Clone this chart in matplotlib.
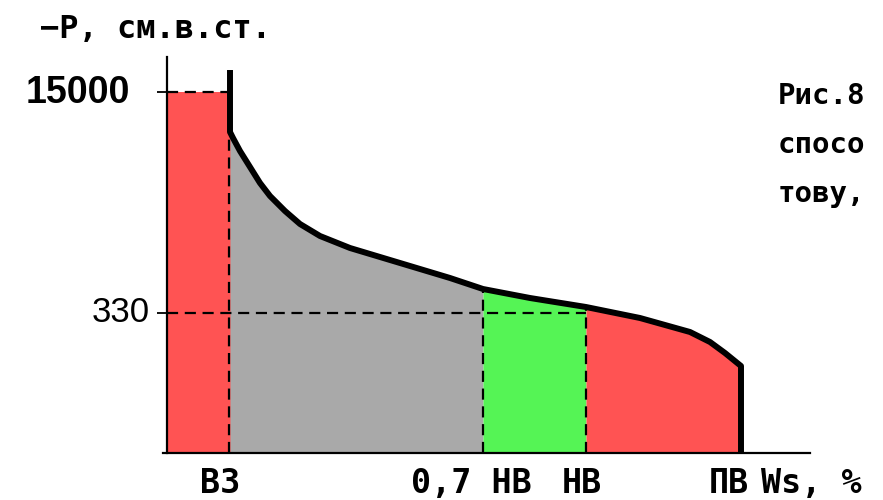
import numpy as np
import matplotlib
matplotlib.use("Agg")
import matplotlib.pyplot as plt

# ---- data (chart units: horizontal = moisture scale, vertical = suction scale) ----
curve_x = [63, 63, 66, 73, 83, 93, 103, 118, 133, 153, 183, 233, 283, 316, 363, 419, 473, 523, 543, 558, 574, 574]
curve_y = [380, 321, 315, 302, 286, 270, 257, 242, 229, 217, 205, 190, 175, 164, 155, 146, 135, 121, 111, 100, 87, 0]

x_vz, x_07nv, x_nv, x_pv = 63, 316, 419, 574        # ВЗ, 0,7 НВ, НВ, ПВ
y_15000, y_330 = 361, 140                            # suction levels
ytick_labels = ["15000", "330"]
xtick_labels = ["ВЗ", "0,7 НВ", "НВ", "ПВ"]
x_axis_label = "Ws, %"
y_axis_label = "−Р, см.в.ст."
side_text = ["Рис.8", "спосо", "тову,"]

RED = "#ff5353"
GRAY = "#a9a9a9"
GREEN = "#55f455"

W, H, DPI = 883, 500, 100
fig = plt.figure(figsize=(W / DPI, H / DPI), dpi=DPI)
ox, oy = 167, 453          # pixel position of the origin
left_px = ox - 10
ax = fig.add_axes([left_px / W, (H - oy) / H, (W - left_px) / W, oy / H])
ax.set_xlim(-10, W - ox)
ax.set_ylim(0, oy)
ax.patch.set_alpha(0)

cx = np.array(curve_x[1:-1], float)
cy = np.array(curve_y[1:-1], float)

# left red bar (ВЗ), slightly overlapped by the gray area to avoid a seam
ax.bar(0, y_15000, width=x_vz + 1.5, align="edge", color=RED, lw=0, zorder=1)
# gray / green / red regions under the curve
ax.fill_between(cx, 0, cy, where=(cx <= x_07nv), color=GRAY, lw=0, zorder=1.1)
ax.fill_between(cx, 0, cy, where=(cx >= x_07nv) & (cx <= x_nv), color=GREEN, lw=0, zorder=1.1)
ax.fill_between(cx, 0, cy, where=(cx >= x_nv), color=RED, lw=0, zorder=1.1)

dash = dict(color="black", lw=1.6, linestyle=(0, (5, 3)), zorder=2)
ax.plot([0, x_vz], [y_15000, y_15000], **dash)
ax.plot([0, x_nv], [y_330, y_330], **dash)
ax.plot([x_vz - 1, x_vz - 1], [0, np.interp(x_vz, cx, cy)], **dash)
ax.plot([x_07nv, x_07nv], [0, np.interp(x_07nv, cx, cy)], **dash)
ax.plot([x_nv, x_nv], [0, np.interp(x_nv, cx, cy)], **dash)

# main curve
ax.plot(curve_x, curve_y, color="black", lw=4.3, solid_joinstyle="round", zorder=3)

# axes
for s in ["top", "right"]:
    ax.spines[s].set_visible(False)
ax.spines["left"].set_position(("data", 0))
ax.spines["bottom"].set_position(("data", 0))
ax.spines["left"].set_bounds(0, 396)
ax.spines["bottom"].set_bounds(-4, 643)
for s in ["left", "bottom"]:
    ax.spines[s].set_linewidth(1.6)
    ax.spines[s].set_zorder(4)
ax.set_xticks([])
ax.set_yticks([y_15000, y_330])
ax.set_yticklabels([])
ax.tick_params(axis="y", length=7.2, width=1.3, direction="out")

# y labels
ax.annotate(ytick_labels[0], (0, y_15000), xytext=(-37, -1), textcoords="offset pixels",
            ha="right", va="center", fontsize=27, fontweight="bold", family="Liberation Sans")
ax.annotate(ytick_labels[1], (0, y_330), xytext=(-17, 0), textcoords="offset pixels",
            ha="right", va="center", fontsize=25, family="Liberation Sans")

mono = dict(family="DejaVu Sans Mono", fontweight="bold")
# x labels
offs = [-10, -12, -4, -12]
for xv, lab, o in zip([x_vz, x_07nv, x_nv, x_pv], xtick_labels, offs):
    ax.annotate(lab, (xv, 0), xytext=(o, -40), textcoords="offset pixels",
                ha="center", va="baseline", fontsize=24, **mono)
ax.annotate(x_axis_label, (x_pv, 0), xytext=(20, -40), textcoords="offset pixels",
            ha="left", va="baseline", fontsize=24, **mono)

# y axis title
fig.text(40 / W, 1 - 38 / H, y_axis_label, ha="left", va="baseline", fontsize=23, **mono)

# side caption
for i, t in enumerate(side_text):
    fig.text(778 / W, 1 - (104 + 49 * i) / H, t, ha="left", va="baseline", fontsize=21, **mono)

fig.savefig("out.png", dpi=DPI)
